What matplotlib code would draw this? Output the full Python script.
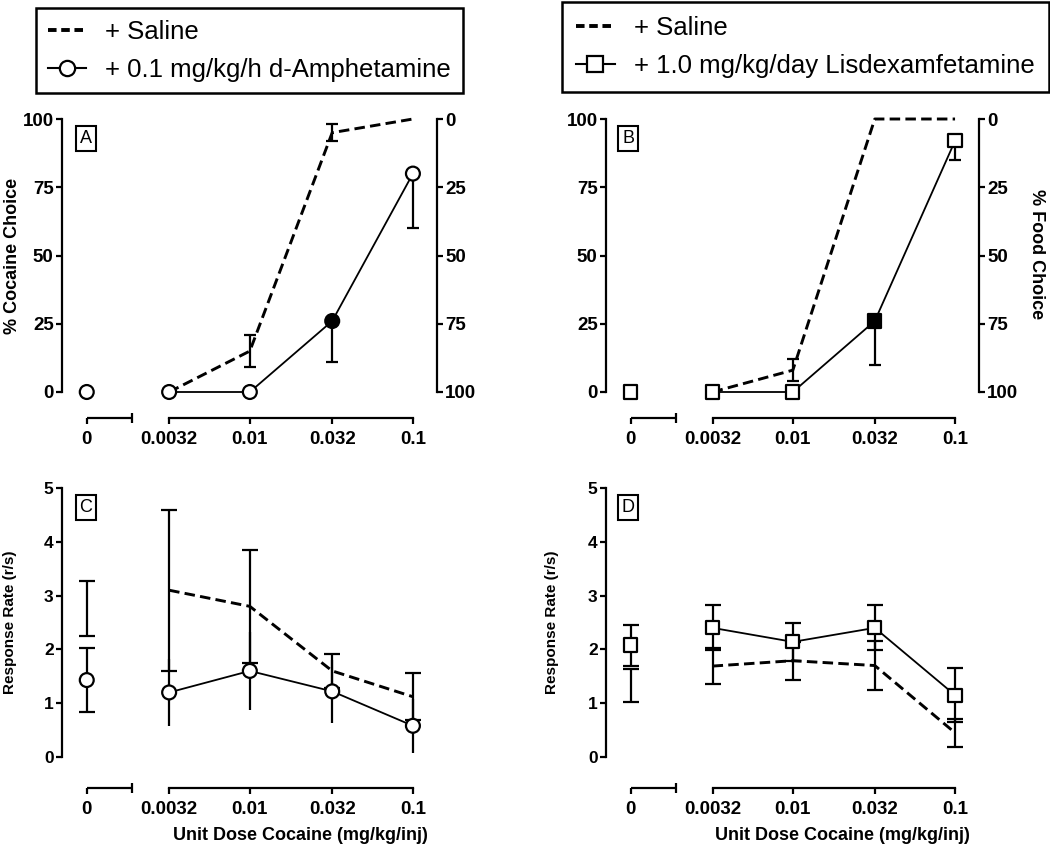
import matplotlib
matplotlib.use("Agg")
import matplotlib.pyplot as plt
from matplotlib.lines import Line2D
from matplotlib.ticker import NullLocator
from matplotlib.transforms import blended_transform_factory, ScaledTranslation

plt.rcParams['font.family'] = ['Liberation Sans', 'DejaVu Sans']

DPI = 100

# doses (mg/kg/inj); the vehicle ("0") point sits left of the axis break
doses = [0.0032, 0.01, 0.032, 0.1]
dose_labels = ['0', '0.0032', '0.01', '0.032', '0.1']

# panel A: % cocaine choice, saline vs d-amphetamine
sal_choice_a = [0, 15, 95, 100]
sal_choice_a_err = [0, 6, 3, 0]
amph_choice_a_zero = 0
amph_choice_a = [0, 0, 26, 80]
amph_choice_a_err = [0, 0, 15, 20]          # drawn below the mean only
amph_choice_a_sig = [False, False, True, False]

# panel B: % cocaine choice, saline vs lisdexamfetamine
sal_choice_b = [0, 8, 100, 100]
sal_choice_b_err = [0, 4, 0, 0]
lis_choice_b_zero = 0
lis_choice_b = [0, 0, 26, 92]
lis_choice_b_err = [0, 0, 16, 7]
lis_choice_b_sig = [False, False, True, False]

# panel C: response rate (r/s), saline vs d-amphetamine
sal_rate_c_zero = 2.76
sal_rate_c_zero_err = 0.51
sal_rate_c = [3.1, 2.8, 1.6, 1.12]
sal_rate_c_err = [1.5, 1.05, 0.32, 0.44]
amph_rate_c_zero = 1.43
amph_rate_c_zero_err = 0.6
amph_rate_c = [1.2, 1.6, 1.22, 0.58]
amph_rate_c_err = [0.63, 0.73, 0.58, 0.5]

# panel D: response rate (r/s), saline vs lisdexamfetamine
sal_rate_d_zero = 1.33
sal_rate_d_zero_err = 0.3
sal_rate_d = [1.69, 1.79, 1.7, 0.45]
sal_rate_d_err = [0.34, 0.35, 0.45, 0.26]
lis_rate_d_zero = 2.08
lis_rate_d_zero_err = 0.38
lis_rate_d = [2.4, 2.14, 2.4, 1.15]
lis_rate_d_err = [0.42, 0.36, 0.42, 0.5]

ZERO_X = 0.001
BREAK_END = 0.0019
XLIM = (0.000705, 0.1405)


def setup_axis(ax, ylim, yticks, x_offset_px, ytick_fs):
	ax.set_xscale('log')
	ax.set_xlim(*XLIM)
	ax.set_ylim(*ylim)
	ax.set_yticks(yticks)
	ax.set_xticks([ZERO_X] + doses)
	ax.set_xticklabels(dose_labels)
	ax.xaxis.set_minor_locator(NullLocator())
	ax.spines['top'].set_visible(False)
	ax.spines['right'].set_visible(False)
	ax.spines['left'].set_linewidth(1.6)
	ax.spines['bottom'].set_linewidth(1.6)
	ax.spines['bottom'].set_position(('outward', x_offset_px * 72 / DPI))
	ax.spines['bottom'].set_bounds(doses[0], doses[-1])
	ax.tick_params(axis='x', length=4, width=1.6, pad=5.5, labelsize=13.5)
	ax.tick_params(axis='y', length=4, width=1.6, pad=2, labelsize=ytick_fs)
	for lab in ax.get_xticklabels() + ax.get_yticklabels():
		lab.set_fontweight('bold')

	# short axis piece for the vehicle dose
	trans = blended_transform_factory(ax.transData, ax.transAxes) + \
		ScaledTranslation(0, -x_offset_px / DPI, ax.figure.dpi_scale_trans)
	ax.plot([ZERO_X, BREAK_END], [0, 0], color='k', lw=1.6, transform=trans,
		clip_on=False, solid_capstyle='butt')
	ax.plot([BREAK_END], [0], marker='|', ms=7, mew=1.6, color='k',
		transform=trans, clip_on=False)


def right_axis(ax):
	ax2 = ax.twinx()
	ax2.set_ylim(100, 0)
	ax2.set_yticks([0, 25, 50, 75, 100])
	for s in ['top', 'left', 'bottom']:
		ax2.spines[s].set_visible(False)
	ax2.spines['right'].set_linewidth(1.6)
	ax2.tick_params(axis='y', length=4, width=1.6, pad=2, labelsize=13.5)
	for lab in ax2.get_yticklabels():
		lab.set_fontweight('bold')
	return ax2


def draw_errbars(ax, xs, ys, lo, hi, capsize):
	pts = [(x, y, l, h) for x, y, l, h in zip(xs, ys, lo, hi) if l > 0 or h > 0]
	if not pts:
		return
	x, y, l, h = zip(*pts)
	ax.errorbar(x, y, yerr=[l, h], fmt='none', ecolor='k', elinewidth=1.6,
		capsize=capsize, capthick=1.6, zorder=3)


def draw_saline(ax, vals, err, capsize, zero_val=None, zero_err=None, zero_cap=None):
	ax.plot(doses, vals, color='k', ls='--', lw=2.1, dashes=(3.6, 1.8), zorder=3,
		clip_on=False)
	draw_errbars(ax, doses, vals, err, err, capsize)
	if zero_val is not None:
		draw_errbars(ax, [ZERO_X], [zero_val], [zero_err], [zero_err], zero_cap)


def draw_drug(ax, zero_val, vals, lo, hi, marker, ms, sig, capsize,
		zero_err=None, zero_cap=0):
	draw_errbars(ax, doses, vals, lo, hi, capsize)
	if zero_err is not None:
		draw_errbars(ax, [ZERO_X], [zero_val], [zero_err], [zero_err], zero_cap)
	ax.plot(doses, vals, color='k', lw=1.3, zorder=4, clip_on=False)
	faces = ['white'] + ['k' if s else 'white' for s in sig]
	ax.scatter([ZERO_X] + doses, [zero_val] + vals, s=ms ** 2, marker=marker,
		facecolors=faces, edgecolors='k', linewidths=1.6, zorder=5, clip_on=False)


def panel_tag(ax, letter, x, y):
	ax.text(x, y, letter, transform=ax.transAxes, ha='center', va='center',
		fontsize=13, bbox=dict(boxstyle='square,pad=0.22', fc='white', ec='k', lw=1.5))


def main():
	fig = plt.figure(figsize=(10.5, 8.48), dpi=DPI)
	W, H = 1050, 848

	def rect(x0, x1, ytop, ybot):
		return [x0 / W, 1 - ybot / H, (x1 - x0) / W, (ybot - ytop) / H]

	ax_a = fig.add_axes(rect(62, 437, 119, 392))
	ax_b = fig.add_axes(rect(606, 979, 119, 392))
	ax_c = fig.add_axes(rect(62, 437, 488, 757))
	ax_d = fig.add_axes(rect(606, 979, 488, 757))

	no_err = [0, 0, 0, 0]

	# A
	setup_axis(ax_a, (0, 100), [0, 25, 50, 75, 100], 26, 13.5)
	right_axis(ax_a)
	draw_saline(ax_a, sal_choice_a, sal_choice_a_err, 4)
	draw_drug(ax_a, amph_choice_a_zero, amph_choice_a, amph_choice_a_err, no_err,
		'o', 10, amph_choice_a_sig, 4)
	ax_a.set_ylabel('% Cocaine Choice', fontsize=13, fontweight='bold')
	ax_a.yaxis.set_label_coords(-0.108, 0.5)
	panel_tag(ax_a, 'A', 0.064, 0.93)

	# B
	setup_axis(ax_b, (0, 100), [0, 25, 50, 75, 100], 26, 13.5)
	right_axis(ax_b)
	draw_saline(ax_b, sal_choice_b, sal_choice_b_err, 4)
	draw_drug(ax_b, lis_choice_b_zero, lis_choice_b, lis_choice_b_err, no_err,
		's', 9.5, lis_choice_b_sig, 4)
	fig.text(1036 / W, 1 - 254 / H, '% Food Choice', rotation=270, ha='center',
		va='center', fontsize=13, fontweight='bold')
	panel_tag(ax_b, 'B', 0.059, 0.93)

	# C
	setup_axis(ax_c, (0, 5), [0, 1, 2, 3, 4, 5], 31, 12.5)
	draw_saline(ax_c, sal_rate_c, sal_rate_c_err, 6,
		sal_rate_c_zero, sal_rate_c_zero_err, 6)
	draw_drug(ax_c, amph_rate_c_zero, amph_rate_c, amph_rate_c_err, amph_rate_c_err,
		'o', 10, [False] * 4, 0, amph_rate_c_zero_err, 6)
	ax_c.set_ylabel('Response Rate (r/s)', fontsize=11, fontweight='bold')
	ax_c.yaxis.set_label_coords(-0.12, 0.5)
	ax_c.set_xlabel('Unit Dose Cocaine (mg/kg/inj)', fontsize=13, fontweight='bold')
	ax_c.xaxis.set_label_coords(0.635, -0.26)
	panel_tag(ax_c, 'C', 0.064, 0.929)

	# D
	setup_axis(ax_d, (0, 5), [0, 1, 2, 3, 4, 5], 31, 12.5)
	draw_saline(ax_d, sal_rate_d, sal_rate_d_err, 6,
		sal_rate_d_zero, sal_rate_d_zero_err, 6)
	draw_drug(ax_d, lis_rate_d_zero, lis_rate_d, lis_rate_d_err, lis_rate_d_err,
		's', 9.5, [False] * 4, 6, lis_rate_d_zero_err, 6)
	ax_d.set_ylabel('Response Rate (r/s)', fontsize=11, fontweight='bold')
	ax_d.yaxis.set_label_coords(-0.125, 0.5)
	ax_d.set_xlabel('Unit Dose Cocaine (mg/kg/inj)', fontsize=13, fontweight='bold')
	ax_d.xaxis.set_label_coords(0.633, -0.26)
	panel_tag(ax_d, 'D', 0.059, 0.929)

	# legends
	sal_handle = Line2D([], [], color='k', ls='--', lw=2.8, dashes=(2.2, 1.2))
	amph_handle = Line2D([], [], color='k', lw=1.5, marker='o', ms=11,
		mfc='white', mec='k', mew=1.6)
	lis_handle = Line2D([], [], color='k', lw=1.5, marker='s', ms=11,
		mfc='white', mec='k', mew=1.6)

	for handle, label, anchor, pad in [
		(amph_handle, '+ 0.1 mg/kg/h d-Amphetamine', (36 / W, 1 - 8 / H), 0.45),
		(lis_handle, '+ 1.0 mg/kg/day Lisdexamfetamine', (562 / W, 1 - 2 / H), 0.55),
	]:
		leg = fig.legend([sal_handle, handle], ['+ Saline', label], loc='upper left',
			bbox_to_anchor=anchor, fontsize=18.5, frameon=True, fancybox=False,
			edgecolor='k', framealpha=1, handlelength=1.5, handletextpad=0.75,
			labelspacing=0.55, borderpad=pad, borderaxespad=0)
		leg.get_frame().set_linewidth(1.8)

	fig.savefig('out.png', dpi=DPI)
	plt.close(fig)


if __name__ == "__main__":
	main()
